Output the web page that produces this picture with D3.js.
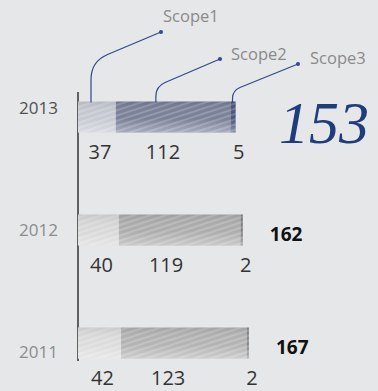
<!DOCTYPE html>
<html>
<head>
<meta charset="utf-8">
<script src="https://cdn.jsdelivr.net/npm/d3@7"></script>
<style>
  html, body { margin: 0; padding: 0; background: #e6e7e9; }
  svg { display: block; font-family: "Open Sans", "Noto Sans", sans-serif; }
</style>
</head>
<body>
<svg id="chart" width="378" height="391"></svg>
<script>
// Emissions by scope, per year (thousand t-CO2)
const years  = ["2013", "2012", "2011"];
const scope1 = [37, 40, 42];
const scope2 = [112, 119, 123];
const scope3 = [5, 2, 2];
const totals = [153, 162, 167];
const scopeNames = ["Scope1", "Scope2", "Scope3"];

const svg = d3.select("#chart");

const x = d3.scaleLinear().domain([0, 170]).range([78, 252]);
const y = d3.scalePoint().domain(years).range([117, 343]);
const barH = 31;

// palettes: latest year in blue-grey, earlier years in grey
const palettes = {
  "2013": ["#c6c9d2", "#7a8098", "#4a577f"],
  "2012": ["#d8d8d8", "#adadad", "#7b7b7b"],
  "2011": ["#dcdcdc", "#b3b3b3", "#878787"]
};

const defs = svg.append("defs");

// fine diagonal sheen stripes, rising to the right
const stripe = defs.append("pattern")
  .attr("id", "stripes")
  .attr("patternUnits", "userSpaceOnUse")
  .attr("width", 5).attr("height", 5)
  .attr("patternTransform", "rotate(72)");
stripe.append("rect").attr("width", 2).attr("height", 5)
  .attr("fill", "#ffffff").attr("opacity", 0.2);

// vertical shading: darker top, paler bottom
const shade = defs.append("linearGradient")
  .attr("id", "shade").attr("x1", 0).attr("y1", 0).attr("x2", 0).attr("y2", 1);
shade.append("stop").attr("offset", "0%").attr("stop-color", "#000").attr("stop-opacity", 0.08);
shade.append("stop").attr("offset", "55%").attr("stop-color", "#fff").attr("stop-opacity", 0.0);
shade.append("stop").attr("offset", "100%").attr("stop-color", "#fff").attr("stop-opacity", 0.35);

const rows = years.map((yr, i) => {
  const vals = [scope1[i], scope2[i], scope3[i]];
  let acc = 0;
  const segs = vals.map((v, k) => {
    const s = { year: yr, k, v, x0: acc, x1: acc + v };
    acc += v;
    return s;
  });
  return { year: yr, i, segs, total: totals[i] };
});

// axis line
svg.append("line")
  .attr("x1", 78).attr("x2", 78)
  .attr("y1", y("2013") - 25).attr("y2", y("2011") + 18)
  .attr("stroke", "#333").attr("stroke-width", 1.5);

const g = svg.selectAll("g.row").data(rows).join("g").attr("class", "row");

g.each(function(r) {
  const row = d3.select(this);
  const top = y(r.year) - barH / 2;

  // stacked segments
  r.segs.forEach(s => {
    const xa = x(s.x0), w = x(s.x1) - x(s.x0);
    ["base", "url(#stripes)", "url(#shade)"].forEach(f => {
      row.append("rect").attr("x", xa).attr("y", top).attr("width", w).attr("height", barH)
        .attr("fill", f === "base" ? palettes[r.year][s.k] : f);
    });
  });

  // year label
  row.append("text")
    .attr("x", 58).attr("y", y(r.year) - 3 + 9 * r.i)
    .attr("text-anchor", "end")
    .attr("font-size", 17)
    .attr("fill", r.i === 0 ? "#505050" : "#8c8c8c")
    .text(r.year);

  // value labels under segments
  const base = top + barH + 26;
  const s1 = r.segs[0], s2 = r.segs[1], s3 = r.segs[2];
  row.append("text").attr("x", (x(s1.x0) + x(s1.x1)) / 2 + 3).attr("y", base)
    .attr("text-anchor", "middle").attr("font-size", 20).attr("fill", "#333")
    .text(s1.v);
  row.append("text").attr("x", x(s2.x0) + 30).attr("y", base)
    .attr("text-anchor", "start").attr("font-size", 20).attr("fill", "#333")
    .text(s2.v);
  row.append("text").attr("x", x(s3.x1) + 3).attr("y", base)
    .attr("text-anchor", "middle").attr("font-size", 20).attr("fill", "#333")
    .text(s3.v);

  // total
  if (r.i === 0) {
    row.append("text")
      .attr("x", 369).attr("y", y(r.year) + 26)
      .attr("text-anchor", "end")
      .style("font-family", "'Liberation Serif', 'DejaVu Serif', serif")
      .style("font-style", "italic")
      .attr("font-size", 60)
      .attr("fill", "#1f3c7c")
      .text(r.total);
  } else {
    row.append("text")
      .attr("x", x(s3.x1) + 27).attr("y", y(r.year) + 11)
      .attr("font-size", 19).attr("font-weight", "bold").attr("fill", "#111")
      .text(r.total);
  }
});

// scope callouts on the latest year
const latest = rows[0];
const barTop = y(latest.year) - barH / 2;
const callouts = [
  { name: scopeNames[0], ax: x(latest.segs[0].x0) + 13, rise: 23, r: 18, dot: [161, 32], tx: 163, ty: 22 },
  { name: scopeNames[1], ax: x(latest.segs[1].x0) + 40, rise: 6,  r: 10, dot: [220, 59], tx: 231, ty: 60 },
  { name: scopeNames[2], ax: x(latest.segs[2].x0) + 2,  rise: 4,  r: 8,  dot: [298, 64], tx: 310, ty: 64 }
];

callouts.forEach(c => {
  const ay = barTop + 1;
  const by = ay - c.rise;
  const cy = by - c.r;
  const dx = c.dot[0] - c.ax, dy = c.dot[1] - cy;
  const len = Math.hypot(dx, dy);
  const ex = c.ax + c.r * dx / len, ey = cy + c.r * dy / len;
  const p = d3.path();
  p.moveTo(c.ax, ay);
  p.lineTo(c.ax, by);
  p.quadraticCurveTo(c.ax, cy, ex, ey);
  p.lineTo(c.dot[0], c.dot[1]);
  svg.append("path").attr("d", p.toString())
    .attr("fill", "none").attr("stroke", "#2d4a8c").attr("stroke-width", 1.2);
  svg.append("circle").attr("cx", c.dot[0]).attr("cy", c.dot[1]).attr("r", 2)
    .attr("fill", "#2d4a8c");
  svg.append("text").attr("x", c.tx).attr("y", c.ty)
    .attr("font-size", 16.5).attr("fill", "#8a8a8a")
    .text(c.name);
});
</script>
</body>
</html>
